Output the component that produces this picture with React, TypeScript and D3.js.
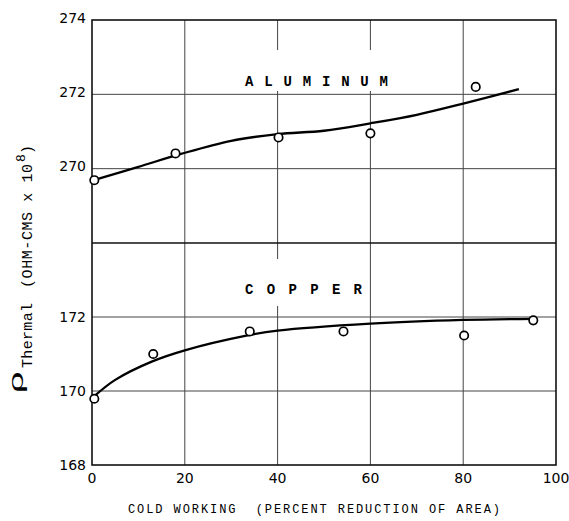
import React from "react";
import * as d3 from "d3";

// ---- data ----
const xTicks = [0, 20, 40, 60, 80, 100];
const alTicks = [270, 272, 274];
const cuTicks = [168, 170, 172];

const alPointsX = [0.5, 18, 40.2, 60, 82.7];
const alPointsY = [269.69, 270.41, 270.84, 270.95, 272.2];
const alCurveX = [0, 10, 19, 30, 40, 50, 60, 70, 80, 92];
const alCurveY = [269.68, 270.05, 270.39, 270.75, 270.93, 271.02, 271.22, 271.45, 271.75, 272.14];

const cuPointsX = [0.5, 13.2, 34, 54.2, 80.2, 95.1];
const cuPointsY = [169.79, 171.0, 171.61, 171.61, 171.5, 171.91];
const cuCurveX = [0.5, 5, 13, 20, 33, 40, 60, 80, 95];
const cuCurveY = [169.86, 170.3, 170.8, 171.1, 171.49, 171.63, 171.82, 171.92, 171.95];

const W = 569;
const H = 521;

export default function App() {
  const x = d3.scaleLinear().domain([0, 100]).range([92, 556]);
  const yAl = d3.scaleLinear().domain([268, 274]).range([243, 20]);
  const yCu = d3.scaleLinear().domain([168, 174]).range([465, 243]);

  const alLine = d3
    .line<number>()
    .x((_, i) => x(alCurveX[i]))
    .y((d) => yAl(d))
    .curve(d3.curveCatmullRom);
  const cuLine = d3
    .line<number>()
    .x((_, i) => x(cuCurveX[i]))
    .y((d) => yCu(d))
    .curve(d3.curveCatmullRom);

  const gridColor = "#444";
  const left = x(0);
  const right = x(100);
  const top = yAl(274);
  const mid = yAl(268);
  const bottom = yCu(168);

  const tickFont = "DejaVu Sans, sans-serif";
  const mono = "Liberation Mono, DejaVu Sans Mono, monospace";

  return (
    <svg
      width={W}
      height={H}
      style={{ position: "absolute", left: 0, top: 0, background: "#fff" }}
    >
      <rect x={0} y={0} width={W} height={H} fill="#fff" />
      {/* vertical grid */}
      {xTicks.slice(1, -1).map((t) => (
        <line key={"vx" + t} x1={x(t)} x2={x(t)} y1={top} y2={bottom} stroke={gridColor} strokeWidth={1} />
      ))}
      {/* horizontal grid */}
      {[270, 272].map((t) => (
        <line key={"ha" + t} x1={left} x2={right} y1={yAl(t)} y2={yAl(t)} stroke={gridColor} strokeWidth={1} />
      ))}
      {[170, 172].map((t) => (
        <line key={"hc" + t} x1={left} x2={right} y1={yCu(t)} y2={yCu(t)} stroke={gridColor} strokeWidth={1} />
      ))}
      {/* label backgrounds */}
      <rect x={240} y={50} width={155} height={41} fill="#fff" />
      <rect x={240} y={259} width={122} height={47} fill="#fff" />
      {/* middle divider and frame */}
      <line x1={left} x2={right} y1={mid} y2={mid} stroke="#111" strokeWidth={1.5} />
      <rect x={left} y={top} width={right - left} height={bottom - top} fill="none" stroke="#111" strokeWidth={1.6} />

      {/* curves */}
      <path d={alLine(alCurveY) || ""} fill="none" stroke="#000" strokeWidth={2.3} />
      <path d={cuLine(cuCurveY) || ""} fill="none" stroke="#000" strokeWidth={2.3} />

      {/* points */}
      {alPointsY.map((v, i) => (
        <circle key={"ap" + i} cx={x(alPointsX[i])} cy={yAl(v)} r={4.2} fill="#fff" stroke="#000" strokeWidth={1.7} />
      ))}
      {cuPointsY.map((v, i) => (
        <circle key={"cp" + i} cx={x(cuPointsX[i])} cy={yCu(v)} r={4.2} fill="#fff" stroke="#000" strokeWidth={1.7} />
      ))}

      {/* panel labels */}
      <text x={245} y={86} fontFamily={mono} fontWeight="bold" fontSize={14} textLength={143} lengthAdjust="spacing">
        A L U M I N U M
      </text>
      <text x={245} y={294} fontFamily={mono} fontWeight="bold" fontSize={14} textLength={117} lengthAdjust="spacing">
        C O P P E R
      </text>

      {/* y tick labels */}
      {alTicks.map((t) => (
        <text key={"ta" + t} x={86} y={yAl(t)} dy="0.2em" textAnchor="end" fontFamily={tickFont} fontSize={14}>
          {t}
        </text>
      ))}
      {cuTicks.map((t) => (
        <text key={"tc" + t} x={86} y={yCu(t)} dy="0.35em" textAnchor="end" fontFamily={tickFont} fontSize={14}>
          {t}
        </text>
      ))}
      {/* x tick labels */}
      {xTicks.map((t) => (
        <text key={"tx" + t} x={x(t)} y={483} textAnchor="middle" fontFamily={tickFont} fontSize={14}>
          {t}
        </text>
      ))}

      {/* x axis title */}
      <text x={128} y={513} fontFamily={mono} fontSize={12} style={{ whiteSpace: "pre" }} textLength={372} lengthAdjust="spacing">
        {"COLD WORKING  (PERCENT REDUCTION OF AREA)"}
      </text>

      {/* y axis title */}
      <g transform="translate(23,393) rotate(-90)">
        <text x={0} y={0} fontFamily="DejaVu Serif, serif" fontSize={20} textLength={22} lengthAdjust="spacingAndGlyphs">ρ</text>
      </g>
      <g transform="translate(32,368) rotate(-90)">
        <text x={0} y={0} fontFamily={mono} fontSize={15} textLength={65} lengthAdjust="spacing">Thermal</text>
        <text x={80} y={0} fontFamily={mono} fontSize={15} textLength={124} lengthAdjust="spacing">(OHM-CMS x 10</text>
        <text x={206} y={-7} fontFamily={mono} fontSize={13}>8</text>
        <text x={214} y={0} fontFamily={mono} fontSize={15}>)</text>
      </g>
    </svg>
  );
}
